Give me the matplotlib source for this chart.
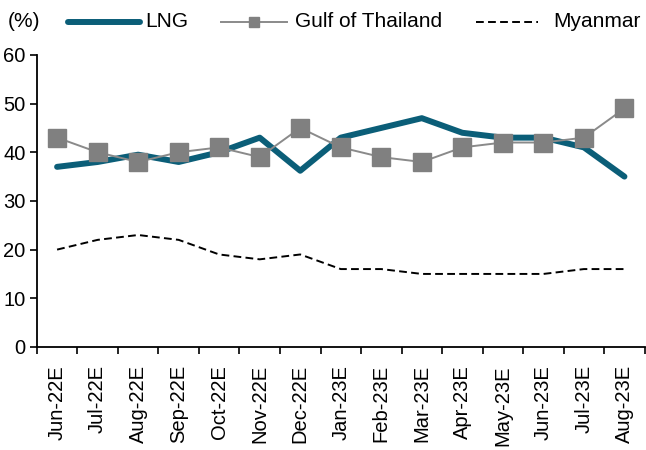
import numpy as np
import matplotlib as mpl
import matplotlib.pyplot as plt
from matplotlib.lines import Line2D

mpl.rcParams['font.family'] = ['Liberation Sans', 'DejaVu Sans']
mpl.rcParams['font.size'] = 14.5

months = ['Jun-22E', 'Jul-22E', 'Aug-22E', 'Sep-22E', 'Oct-22E', 'Nov-22E', 'Dec-22E',
          'Jan-23E', 'Feb-23E', 'Mar-23E', 'Apr-23E', 'May-23E', 'Jun-23E', 'Jul-23E', 'Aug-23E']
lng = [37, 38, 39.5, 38, 40, 43, 36.2, 43, 45, 47, 44, 43, 43, 41, 35]
gulf = [43, 40, 38, 40, 41, 39, 45, 41, 39, 38, 41, 42, 42, 43, 49]
myanmar = [20, 22, 23, 22, 19, 18, 19, 16, 16, 15, 15, 15, 15, 16, 16]

W, H = 646, 450
fig = plt.figure(figsize=(W / 100, H / 100), dpi=100)
ax = fig.add_axes([0.057, 0.229, 0.941, 0.649])

lng_style = dict(color='#0b5e78', lw=4.3, solid_capstyle='round')
gulf_style = dict(color='#8a8a8a', lw=1.4, marker='s', markerfacecolor='#808080',
                  markeredgecolor='#808080')
mya_style = dict(color='black', lw=1.4, ls=(0, (4, 2.2)))

x = np.arange(len(months))
ax.plot(x, lng, zorder=3, **lng_style)
ax.plot(x, gulf, markersize=12.5, zorder=4, **gulf_style)
ax.plot(x, myanmar, zorder=2, **mya_style)

ax.set_xlim(-0.5, len(months) - 0.5)
ax.set_ylim(0, 60)
ax.set_yticks(range(0, 61, 10))
ax.set_xticks(x)
ax.set_xticklabels(months, rotation=90)
ax.set_xticks(np.arange(-0.5, len(months), 1), minor=True)
ax.tick_params(axis='x', which='major', length=0, pad=13)
ax.tick_params(axis='x', which='minor', length=5, width=1.2)
ax.tick_params(axis='y', length=5, width=1.2, pad=3)

for s in ['top', 'right']:
    ax.spines[s].set_visible(False)
for s in ['left', 'bottom']:
    ax.spines[s].set_linewidth(1.3)

# legend row across the top, placed by hand
ly = 1 - 21.5 / H
fig.text(8 / W, ly, '(%)', va='center', fontsize=15)
entries = [('LNG', lng_style, 68, 140, 145),
           ('Gulf of Thailand', gulf_style, 221, 287, 295),
           ('Myanmar', mya_style, 476, 538, 553)]
for label, style, x0, x1, tx in entries:
    xs = [x0 / W, (x0 + x1) / 2 / W, x1 / W]
    line = Line2D(xs, [ly] * 3, transform=fig.transFigure, **style)
    if 'marker' in style:
        line.set_markevery([1])
        line.set_markersize(7)
    fig.add_artist(line)
    fig.text(tx / W, ly, label, va='center', fontsize=15)

fig.savefig('out.png', dpi=100)
